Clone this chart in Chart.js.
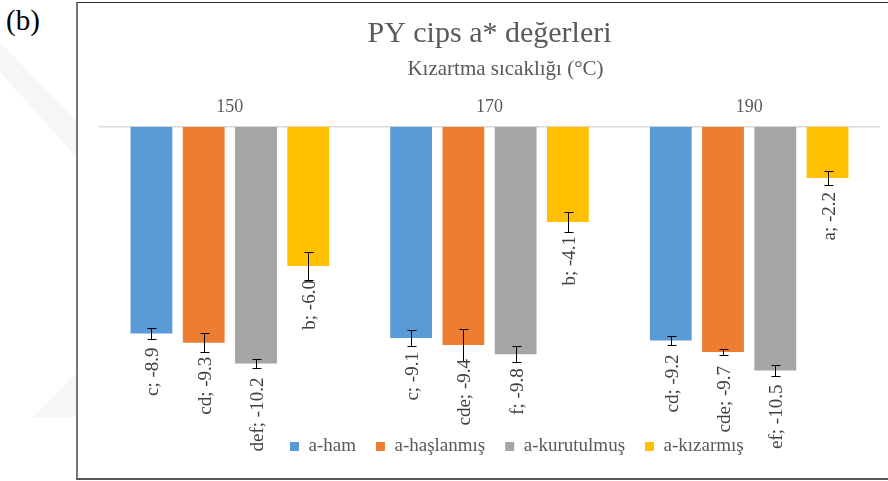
<!DOCTYPE html>
<html>
<head>
<meta charset="utf-8">
<script src="https://cdn.jsdelivr.net/npm/chart.js@4.4.0/dist/chart.umd.min.js"></script>
<style>
  html, body { margin: 0; padding: 0; background: #fff; overflow: hidden; }
  body { width: 888px; height: 481px; position: relative; font-family: "Liberation Serif", serif; }
  #tag { position: absolute; left: 6px; top: 6px; font-size: 29px; line-height: 29px; color: #000; }
  .mark { position: absolute; background: #f6f6f6; }
  #band { left: 0; top: 0; width: 77px; height: 481px;
    clip-path: polygon(0 42px, 0 72px, 77px 158px, 77px 122px); }
  #tri { left: 0; top: 0; width: 77px; height: 481px;
    clip-path: polygon(33px 417px, 77px 372px, 77px 417px); }
  #frame { position: absolute; left: 76px; top: 2px; width: 830px; height: 475px;
    border-top: 1px solid #333; border-left: 2px solid #777; border-bottom: 2px solid #555; }
  #wrap { position: absolute; left: 78px; top: 3px; width: 822px; height: 476px; }
</style>
</head>
<body>
<div class="mark" id="band"></div>
<div class="mark" id="tri"></div>
<div id="tag">(b)</div>
<div id="frame"></div>
<div id="wrap"><canvas id="chart"></canvas></div>
<script>
// Frying temperatures (°C)
const categories = ['150', '170', '190'];
const seriesNames = ['a-ham', 'a-haşlanmış', 'a-kurutulmuş', 'a-kızarmış'];
const seriesColors = ['#5B9BD5', '#ED7D31', '#A5A5A5', '#FFC000'];

// a* means
const hamValues = [-8.9, -9.1, -9.2];
const haslanmisValues = [-9.3, -9.4, -9.7];
const kurutulmusValues = [-10.2, -9.8, -10.5];
const kizarmisValues = [-6.0, -4.1, -2.2];

// error bar half-lengths
const hamErrors = [0.22, 0.33, 0.2];
const haslanmisErrors = [0.4, 0.7, 0.15];
const kurutulmusErrors = [0.2, 0.35, 0.22];
const kizarmisErrors = [0.59, 0.43, 0.3];

// significance letters
const hamLetters = ['c', 'c', 'cd'];
const haslanmisLetters = ['cd', 'cde', 'cde'];
const kurutulmusLetters = ['def', 'f', 'ef'];
const kizarmisLetters = ['b', 'b', 'a'];

const titleText = 'PY cips a* değerleri';
const subtitleText = 'Kızartma sıcaklığı (°C)';
const serif = '"Liberation Serif", "Times New Roman", serif';

const values = [hamValues, haslanmisValues, kurutulmusValues, kizarmisValues];
const errors = [hamErrors, haslanmisErrors, kurutulmusErrors, kizarmisErrors];
const letters = [hamLetters, haslanmisLetters, kurutulmusLetters, kizarmisLetters];

// error bars + rotated value labels under each bar
const barExtras = {
  id: 'barExtras',
  afterDatasetsDraw(chart) {
    const ctx = chart.ctx;
    const y = chart.scales.y;
    chart.data.datasets.forEach((ds, i) => {
      const meta = chart.getDatasetMeta(i);
      meta.data.forEach((bar, j) => {
        const v = ds.data[j];
        const e = ds.errors[j];
        const x = Math.round(bar.x) + 0.5;
        const top = Math.round(y.getPixelForValue(v + e)) + 0.5;
        const bot = Math.round(y.getPixelForValue(v - e)) + 0.5;
        ctx.save();
        ctx.strokeStyle = '#000';
        ctx.lineWidth = 1;
        ctx.beginPath();
        ctx.moveTo(x, top); ctx.lineTo(x, bot);
        ctx.moveTo(x - 4, top); ctx.lineTo(x + 5, top);
        ctx.moveTo(x - 4, bot); ctx.lineTo(x + 5, bot);
        ctx.stroke();

        ctx.translate(bar.x + 2, bar.y + 14);
        ctx.rotate(-Math.PI / 2);
        ctx.font = '19px ' + serif;
        ctx.fillStyle = '#404040';
        ctx.textAlign = 'right';
        ctx.textBaseline = 'middle';
        ctx.fillText(ds.letters[j] + '; ' + v.toFixed(1), 0, 0);
        ctx.restore();
      });
    });
  }
};

// nudge legend and subtitle to where the original sits
const nudge = {
  id: 'nudge',
  afterLayout(chart) {
    if (chart.legend) chart.legend.left = 290 - 78 - 20;
    const sub = chart.boxes.find(b => b !== chart.titleBlock && b.options && b.options.text === subtitleText);
    if (sub) { sub.left += 16; sub.right += 16; }
  }
};

new Chart(document.getElementById('chart'), {
  type: 'bar',
  data: {
    labels: categories,
    datasets: seriesNames.map((name, i) => ({
      label: name,
      data: values[i],
      errors: errors[i],
      letters: letters[i],
      backgroundColor: seriesColors[i],
      borderWidth: 0,
      categoryPercentage: 0.805,
      barPercentage: 0.8
    }))
  },
  options: {
    responsive: true,
    maintainAspectRatio: false,
    animation: false,
    layout: { padding: { left: 22, right: 21, top: 0, bottom: 13 } },
    plugins: {
      title: {
        display: true,
        text: titleText,
        color: '#595959',
        font: { family: serif, size: 30, weight: 'normal' },
        padding: { top: 13, bottom: 3 }
      },
      subtitle: {
        display: true,
        text: subtitleText,
        color: '#595959',
        font: { family: serif, size: 21, weight: 'normal' },
        padding: { top: 2, bottom: 5 }
      },
      legend: {
        position: 'bottom',
        align: 'start',
        labels: {
          boxWidth: 9,
          boxHeight: 9,
          padding: 20,
          color: '#595959',
          font: { family: serif, size: 19 }
        }
      },
      tooltip: { enabled: false }
    },
    scales: {
      x: {
        position: 'top',
        grid: { display: false, drawTicks: false },
        border: { display: true, color: '#D9D9D9', width: 1.5 },
        ticks: { color: '#595959', font: { family: serif, size: 18 }, padding: 9 }
      },
      y: { display: false, min: -12.5, max: 0 }
    }
  },
  plugins: [barExtras, nudge]
});
</script>
</body>
</html>
